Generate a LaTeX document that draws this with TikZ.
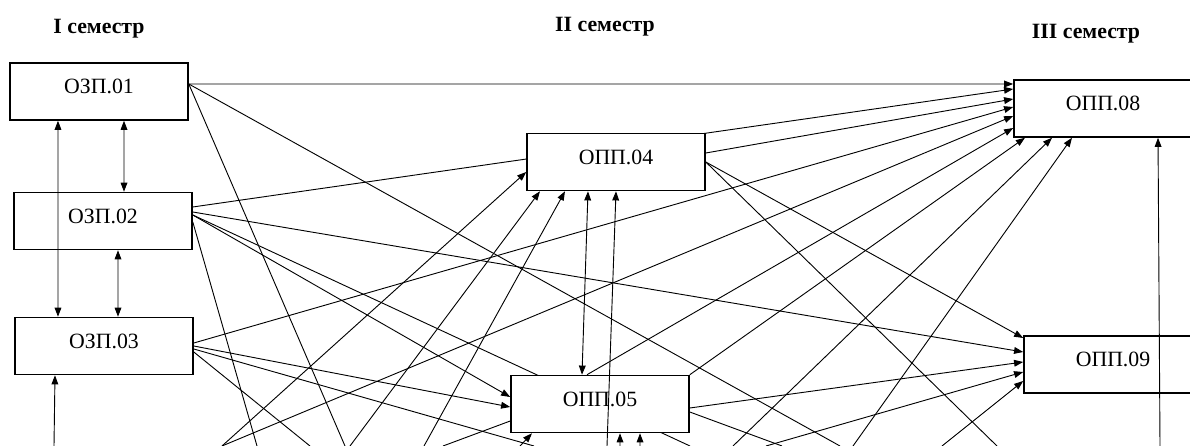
\documentclass[tikz,border=0pt]{standalone}
\usepackage{fontspec}
\setmainfont{Liberation Serif}
\usetikzlibrary{arrows.meta,backgrounds}

\begin{document}
\begin{tikzpicture}[x=0.025cm,y=-0.025cm,
    disc/.style={draw,line width=1.1pt,fill=white,minimum width=4.45cm,minimum height=1.425cm,
      inner sep=0pt,text height=11pt,text depth=8pt,font=\fontsize{15.5}{18}\selectfont},
    sem/.style={font=\bfseries\fontsize{15.5}{18}\selectfont},
    link/.style={line width=0.65pt,-{Triangle[length=6.5pt,width=4.8pt]}},
    both/.style={line width=0.65pt,{Triangle[length=6.5pt,width=4.8pt]}-{Triangle[length=6.5pt,width=4.8pt]}},
    free/.style={line width=0.65pt}]
    \useasboundingbox (0,0) rectangle (1190,446);
    \clip (0,0) rectangle (1190,446);

    \node[sem] (S1) at (99,28.5) {I семестр};
    \node[sem] (S2) at (605,27) {II семестр};
    \node[sem] (S3) at (1086,33.5) {III семестр};

    \node[disc] (Z1) at (99,91.5) {ОЗП.01};
    \node[disc] (Z2) at (103,221) {ОЗП.02};
    \node[disc] (Z3) at (104,346) {ОЗП.03};
    \node[disc] (P4) at (616,162) {ОПП.04};
    \node[disc] (P5) at (600,404) {ОПП.05};
    \node[disc] (P8) at (1103,108.5) {ОПП.08};
    \node[disc] (P9) at (1113,364.5) {ОПП.09};

    \coordinate (Z1r) at ([yshift=1.875mm]Z1.east);
    \coordinate (Z1b) at ([xshift=6.25mm]Z1.south);
    \coordinate (Z1c) at ([xshift=-10.25mm]Z1.south);
    \coordinate (Z2a) at ([yshift=3.5mm]Z2.east);
    \coordinate (Z2b) at ([yshift=2.25mm]Z2.east);
    \coordinate (Z2c) at ([yshift=1.5mm]Z2.east);
    \coordinate (Z2d) at ([yshift=-0.25mm]Z2.east);
    \coordinate (Z2t) at ([xshift=5.25mm]Z2.north);
    \coordinate (Z2s) at ([xshift=3.75mm]Z2.south);
    \coordinate (Z3a) at ([yshift=0.75mm]Z3.east);
    \coordinate (Z3b) at (Z3.east);
    \coordinate (Z3c) at ([yshift=-0.75mm]Z3.east);
    \coordinate (Z3d) at ([yshift=-1.5mm]Z3.east);
    \coordinate (Z3t) at ([xshift=3.5mm]Z3.north);
    \coordinate (Z3u) at ([xshift=-11.5mm]Z3.north);
    \coordinate (Z3e) at ([xshift=-12.25mm]Z3.south);
    \coordinate (P4a) at ([yshift=-2.5mm]P4.west);
    \coordinate (P4b) at ([xshift=-19mm]P4.south);
    \coordinate (P4c) at ([xshift=-12.75mm]P4.south);
    \coordinate (P4d) at ([yshift=2.25mm]P4.east);
    \coordinate (P4e) at ([xshift=-7mm]P4.south);
    \coordinate (P5a) at ([yshift=1.75mm]P5.west);
    \coordinate (P5b) at ([yshift=-0.75mm]P5.west);
    \coordinate (P5c) at ([yshift=-4.25mm]P5.west);
    \coordinate (P5d) at ([xshift=-17mm]P5.south);
    \coordinate (P5e) at ([xshift=5mm]P5.south);
    \coordinate (P5f) at ([xshift=10mm]P5.south);
    \coordinate (P5g) at ([xshift=-4.5mm]P5.north);
    \coordinate (P5h) at ([xshift=-3.25mm]P5.north);
    \coordinate (P5i) at ([yshift=-1mm]P5.east);
    \coordinate (P5j) at ([yshift=-2mm]P5.east);
    \coordinate (P8a) at ([yshift=6.125mm]P8.west);
    \coordinate (P8b) at ([yshift=4.875mm]P8.west);
    \coordinate (P8c) at ([yshift=2.375mm]P8.west);
    \coordinate (P8d) at ([yshift=0.375mm]P8.west);
    \coordinate (P8e) at ([yshift=-1.875mm]P8.west);
    \coordinate (P8f) at ([yshift=-4.875mm]P8.west);
    \coordinate (P8g) at ([xshift=-19.5mm]P8.south);
    \coordinate (P8h) at ([xshift=-12.75mm]P8.south);
    \coordinate (P8i) at ([xshift=-7.75mm]P8.south);
    \coordinate (P8j) at ([xshift=13.75mm]P8.south);
    \coordinate (P9a) at ([yshift=6.625mm]P9.west);
    \coordinate (P9b) at ([yshift=3.125mm]P9.west);
    \coordinate (P9c) at ([yshift=0.625mm]P9.west);
    \coordinate (P9d) at ([yshift=-1.875mm]P9.west);
    \coordinate (P9e) at ([yshift=-4.125mm]P9.west);

    \coordinate (U55) at (54,446);
    \coordinate (U222) at (222,446);
    \coordinate (U257) at (257,446);
    \coordinate (U310) at (310,446);
    \coordinate (U345) at (345,446);
    \coordinate (U350) at (350,446);
    \coordinate (U424) at (424,446);
    \coordinate (U443) at (443,446);
    \coordinate (U520) at (520,446);
    \coordinate (U534) at (534,446);
    \coordinate (U607) at (607,446);
    \coordinate (U620) at (620,446);
    \coordinate (U640) at (640,446);
    \coordinate (U690) at (690,446);
    \coordinate (U733) at (733,446);
    \coordinate (U766) at (766,446);
    \coordinate (U782) at (782,446);
    \coordinate (U840) at (840,446);
    \coordinate (U853) at (853,446);
    \coordinate (U942) at (942,446);
    \coordinate (U997) at (997,446);
    \coordinate (U1160) at (1160,446);

    \begin{scope}[on background layer]
    \fill[white] (0,0) rectangle (1190,446);
    \draw[link] (Z1r) -- (P8a);
    \draw[free] (Z1r) -- (U345);
    \draw[free] (Z1r) -- (U840);

    \draw[link] (Z2a) -- (P8b);
    \draw[link] (Z2b) -- (P9b);
    \draw[link] (Z2c) -- (P5a);
    \draw[free] (Z2c) -- (U690);
    \draw[free] (Z2d) -- (U257);

    \draw[link] (Z3a) -- (P8d);
    \draw[link] (Z3b) -- (P5b);
    \draw[free] (Z3c) -- (U534);
    \draw[free] (Z3d) -- (U310);

    \draw[link] (U55) -- (Z3e);
    \draw[link] (U222) -- (P4a);
    \draw[link] (U222) -- (P8e);
    \draw[link] (U350) -- (P4b);
    \draw[link] (U424) -- (P4c);
    \draw[free] (U443) -- (P5c);
    \draw[link] (U520) -- (P5d);
    \draw[link] (U620) -- (P5e);
    \draw[link] (U640) -- (P5f);
    \draw[link] (U733) -- (P8h);
    \draw[link] (U853) -- (P8i);
    \draw[link] (U766) -- (P9d);
    \draw[link] (U942) -- (P9e);

    \draw[link] (P4d) -- (P8c);
    \draw[link] (P4.east) -- (P9a);
    \draw[free] (P4.east) -- (U997);
    \draw[both] (P4e) -- (P5g);

    \draw[link] (P5h) -- (P8f);
    \draw[link] (P5.north east) -- (P8g);
    \draw[link] (P5i) -- (P9c);
    \draw[free] (P5j) -- (U782);

    \draw[both] (Z1b) -- (Z2t);
    \draw[both] (Z2s) -- (Z3t);
    \end{scope}

    \draw[both] (Z1c) -- (Z3u);
    \draw[link] (U607) -- (P4.south);
    \draw[link] (U1160) -- (P8j);
\end{tikzpicture}
\end{document}
